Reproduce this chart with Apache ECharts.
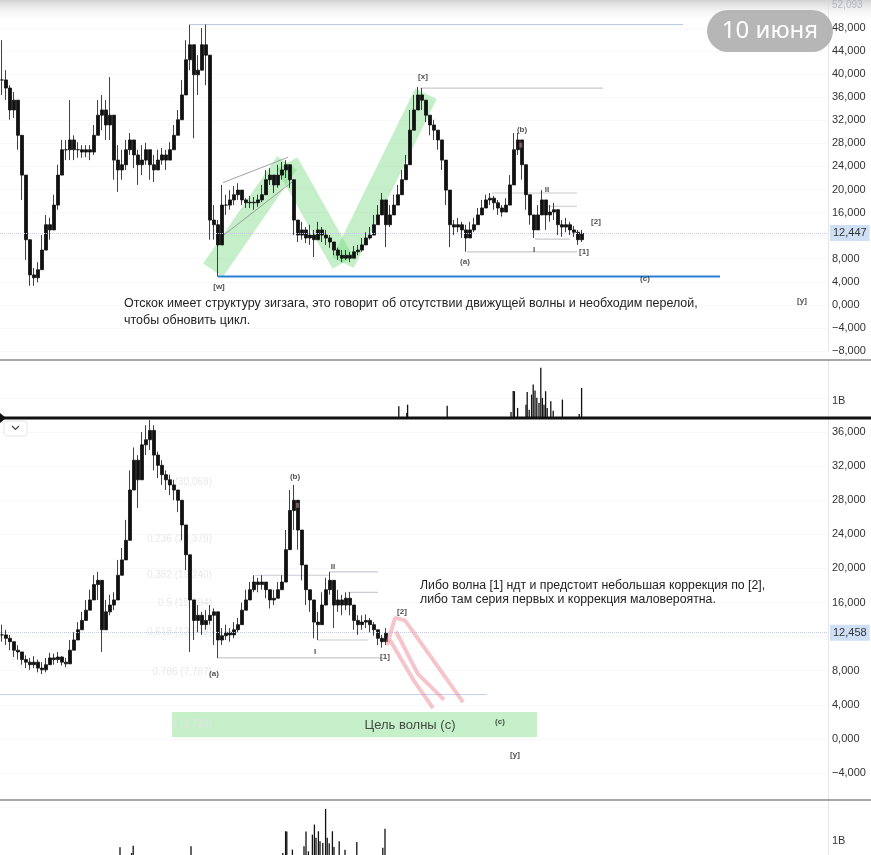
<!DOCTYPE html>
<html><head><meta charset="utf-8">
<script src="https://cdn.jsdelivr.net/npm/echarts@6/dist/echarts.min.js"></script>
<style>html,body{margin:0;padding:0;background:#fff}#c{width:871px;height:855px}</style>
</head><body><div id="c"></div>
<script>
// ---------- DATA (prices in thousands) ----------
const topClose = [39.0,37.6,33.8,35.5,29.4,22.5,11.3,5.2,4.7,6.1,
9.5,13.9,13.0,17.3,22.5,26.9,26.9,28.6,26.9,26.9,
26.5,26.9,26.5,29.4,32.9,33.8,31.2,32.9,25.1,23.4,
24.3,26.9,28.6,26.0,24.3,25.1,26.9,24.3,23.4,25.1,
26.0,25.1,26.9,29.4,32.1,36.4,42.5,45.1,39.9,40.7,
45.1,43.3,14.7,13.9,10.4,17.3,17.3,18.2,19.1,19.9,
18.2,17.7,17.8,17.7,18.2,19.1,21.7,22.5,20.8,22.5,
23.4,24.3,21.7,14.7,12.1,13.0,11.6,12.1,11.3,13.0,
12.1,11.6,10.9,9.5,8.6,8.1,8.6,8.1,9.2,9.5,
10.4,11.6,12.1,13.9,15.6,18.2,13.9,15.6,17.3,19.1,
21.7,24.3,30.3,33.8,36.4,35.5,32.9,31.2,30.3,28.6,
25.1,19.9,13.9,13.5,13.9,13.0,11.6,13.0,13.9,15.6,
16.8,18.2,18.5,17.7,16.8,16.1,17.3,20.8,26.9,28.6,
24.3,19.1,15.6,13.0,15.6,18.2,15.6,16.1,16.5,13.9,
13.5,13.9,13.0,12.6,11.3,12.4];
const topHigh = [45.9,40.7,38.1,36.9,33.8,28.6,21.7,9.5,6.4,7.4,
12.1,15.6,15.1,19.1,24.3,28.6,28.6,35.5,29.4,28.2,
27.7,27.7,27.7,31.2,35.5,36.4,35.5,39.5,30.3,27.7,
26.9,28.6,29.8,28.6,26.9,27.7,28.1,26.9,26.0,26.9,
27.2,26.9,28.2,31.2,33.8,39.0,45.9,48.6,43.3,43.3,
48.0,48.6,37.3,17.3,14.7,20.8,19.1,19.9,20.6,21.1,
19.6,18.5,18.9,18.7,19.1,20.8,23.4,23.7,22.5,24.3,
24.8,25.1,23.7,20.8,14.4,14.4,13.5,13.9,13.0,14.4,
13.5,13.0,12.1,10.7,9.9,9.5,9.5,9.2,10.2,10.4,
11.6,12.6,13.5,15.6,17.3,19.4,16.5,17.3,19.1,20.8,
23.4,26.0,33.8,36.4,37.8,37.6,35.5,32.9,32.1,30.3,
26.9,24.3,18.2,14.7,15.1,14.4,13.9,14.4,15.1,16.8,
18.2,19.1,19.4,18.9,18.2,17.3,18.5,22.5,29.8,29.8,
27.7,22.5,17.3,15.6,17.3,19.9,18.2,17.3,17.7,15.6,
14.7,15.1,14.4,13.7,13.0,13.0];
const topLow = [36.4,35.5,32.1,32.4,26.9,18.2,7.8,3.3,3.3,3.9,
6.1,9.5,11.3,13.0,16.5,22.5,25.1,25.1,25.1,25.5,
25.5,25.6,25.1,26.0,29.4,30.3,28.6,28.6,21.7,19.6,
21.7,23.4,26.0,23.7,20.8,22.5,24.3,21.7,21.3,23.4,
24.3,23.4,25.5,26.9,29.4,32.9,39.0,40.7,28.9,36.4,
40.7,38.1,11.3,11.3,4.9,12.1,15.6,16.5,17.3,18.2,
17.3,16.8,16.8,16.5,17.0,17.8,19.9,20.8,19.4,20.3,
21.7,22.0,20.3,12.1,10.9,11.3,10.7,10.4,8.3,11.3,
10.9,10.4,9.9,8.6,7.8,7.4,7.8,7.4,8.1,8.6,
9.2,10.4,11.3,12.1,13.9,15.6,10.0,13.5,15.6,17.3,
19.9,22.5,26.9,31.2,34.7,33.8,31.7,29.4,28.6,26.9,
23.4,17.3,10.0,12.1,12.6,11.6,9.2,11.6,12.6,13.9,
15.6,16.8,17.3,16.5,15.6,15.3,16.1,19.1,23.4,26.0,
21.7,16.5,13.9,11.6,13.5,15.6,13.0,14.4,14.7,12.1,
11.8,12.6,12.1,11.8,10.4,10.9];
const topLast = 12.447;

const botClose = [12.2,11.8,11.4,10.4,10.2,9.3,9.0,8.7,9.0,8.3,
8.1,8.7,9.5,9.3,9.6,9.0,8.8,10.4,11.6,12.8,
13.9,15.1,16.3,18.1,18.6,12.8,14.9,15.7,16.3,19.2,
21.0,23.3,29.2,32.7,30.4,34.5,35.1,36.2,33.3,32.1,
31.0,30.4,29.8,29.2,28.0,25.1,21.6,16.3,13.9,14.5,
13.4,13.9,14.5,14.9,11.6,12.1,12.5,12.2,12.8,13.4,
15.1,16.3,17.5,18.4,18.1,18.4,17.5,16.3,16.5,17.5,
18.4,22.2,26.8,28.0,24.5,20.4,17.5,16.3,13.7,13.4,
15.7,17.5,18.6,15.7,16.3,15.7,16.5,15.7,13.9,13.4,
13.7,13.9,13.4,12.8,11.8,11.4,12.4];
const botHigh = [13.4,12.8,12.2,11.4,11.0,10.2,9.8,9.5,9.7,9.3,
9.0,9.5,10.1,10.0,10.2,9.7,9.5,11.6,12.5,13.7,
14.9,16.3,17.5,19.2,19.6,16.3,16.3,16.9,17.2,21.0,
22.4,25.7,31.5,34.2,33.3,36.0,36.8,37.4,36.8,33.7,
32.7,31.5,31.0,30.4,29.2,27.4,23.9,21.0,15.7,15.7,
14.9,15.1,15.7,15.3,12.8,13.0,13.4,13.0,13.7,14.2,
16.0,17.5,18.4,19.2,18.9,19.2,18.4,17.2,17.5,18.4,
19.2,24.5,29.2,29.8,27.4,23.3,19.8,17.5,15.7,14.9,
17.2,18.9,19.6,17.5,17.5,16.9,17.2,17.2,15.3,14.5,
14.5,14.6,14.2,13.7,12.8,12.2,13.0];
const botLow = [11.4,11.0,10.4,9.6,9.3,8.7,8.3,8.1,8.3,7.8,
7.6,7.8,8.7,8.7,8.9,8.6,8.4,9.3,10.4,11.6,
12.8,13.9,15.1,16.5,16.3,10.2,13.4,14.5,15.1,17.5,
19.8,21.0,25.7,29.2,27.1,31.5,33.3,33.9,31.5,30.6,
29.8,29.2,28.6,28.0,26.6,23.3,19.8,10.2,11.6,12.5,
12.2,12.8,13.4,11.0,9.5,11.0,11.6,11.4,11.8,12.5,
13.9,15.1,16.5,17.2,17.2,17.5,16.5,15.3,15.7,16.5,
17.5,19.2,23.3,24.5,22.2,18.6,15.7,14.9,11.8,11.6,
14.2,15.7,16.9,13.0,14.9,14.5,15.1,14.5,12.8,12.2,
12.8,13.0,12.5,12.1,11.0,10.7,11.0];
const botLast = 12.458;

// volume (billions), positions on the candle index scale
const topVolIdx = [99.2,101.2,101.4,111.3,127.25,127.8,128.1,128.9,131,131.3,131.8,132.4,132.8,133.25,133.7,134.25,134.7,135.1,135.5,135.9,136.3,137.2,137.8,140.1,144.3,144.9];
const topVolB = [0.69,0.29,0.78,0.72,0.35,1.59,1.57,0.59,0.78,1.53,0.49,1.37,1.96,1.61,1.18,0.88,2.94,1.18,0.78,1.57,0.59,0.98,0.43,1.08,0.24,1.76];
const botVolIdx = [29.5,32.4,32.8,47.25,70.2,70.9,71.2,72.6,75.5,76,76.6,77.6,78.1,78.5,79.1,79.5,80.2,80.9,81.3,81.8,82.6,83,84.3,85.75,88.7,95.2,95.75];
const botVolB = [0.63,0.29,0.72,0.69,0.29,1.57,1.55,0.49,0.69,1.55,0.39,1.37,1.96,1.18,1.57,0.98,0.88,2.88,1.18,0.86,1.57,0.65,0.98,0.49,0.94,0.6,1.72];

// annotations: [startIdx, endIdx, level]
const topHLines = [[104.5,150.25,37.6],[122.5,143.75,19.4],[136.5,143.75,17.1],[133.25,142,11.4],[116.25,143.75,9.2]];
const topHighLine = [47,170.25,48.6];
const topSupport = [54,179.5,4.9];
const topChannel = [[[55.25,21.2],[71.5,25.6]],[[54.5,11.6],[72.5,21.3]]];
const topZigzag = [[52.75,6.0],[71.25,24.6],[85.25,7.3],[106,36.6]];
const topWaveLabels = [['[x]',105.25,39.5],['(b)',130,30.3],['II',136.25,19.9],['[2]',148.5,14.4],['(a)',115.75,7.4],['I',133,9.5],['[1]',145.5,9.2],['[w]',54.25,3.1],['(c)',160.75,4.6],['[y]',200,0.7]];

const botHLines = [[53.75,95.25,9.5],[78.75,91.5,11.6],[82,94,19.6],[86.5,94,17.2],[63.25,82,19.2]];
const botFaintLine = [-0.5,121.25,5.2];
const botTarget = [42.5,133.75,3.15,0.2];
const botTargetText = ['Цель волны (с)',102,1.6];
const botWaveLabels = [['(b)',73.25,30.7],['II',82.75,20.2],['[2]',100,14.9],['(a)',53,7.6],['I',78.25,10.2],['[1]',95.75,9.6],['(c)',124.5,2.0],['[y]',128.25,-1.9]];
const botPink = [[[96.25,11.0],[98.25,14.2],[100.75,13.9],[115.25,4.3]],[[97,11.6],[103,6.8],[107.75,3.6]],[[98.5,12.6],[104,7.6],[110.5,4.6]]];
const fibRatios = ['0','0.236','0.382','0.5','0.618','0.786'];
const fibPrices = [30.069,23.379,19.240,15.894,12.549,7.787];
const fibLabelIdx = 52.5;

const topText = 'Отскок имеет структуру зигзага, это говорит об отсутствии движущей волны и необходим перелой,\nчтобы обновить цикл.';
const botText = 'Либо волна [1] ндт и предстоит небольшая коррекция по [2],\nлибо там серия первых и коррекция маловероятна.';

// ---------- BUILD ----------
const N = 207;
const cats = Array.from({length:N},(_,i)=>i);
const ohlc = (c,h,l)=>c.map((v,i)=>[i?c[i-1]:v, v, l[i], h[i]]);
const fmtK = v => v===12 ? '' : (v<0?'−':'') + Math.abs(v) + ',000';
const fmtLast = v => v.toFixed(3).replace('.',',');
const FONT = 'Liberation Sans, Arial, sans-serif';

function line(xa, ya, pts, color, width, z, extra){
  return Object.assign({type:'line', xAxisIndex:xa, yAxisIndex:ya, data:pts, symbol:'none', silent:true,
    lineStyle:{color, width}, z: z||3, animation:false}, extra||{});
}
function hline(xa, ya, l, color, width, z){ return line(xa, ya, [[l[0],l[2]],[l[1],l[2]]], color, width, z); }
function labels(xa, ya, arr){
  return {type:'scatter', xAxisIndex:xa, yAxisIndex:ya, symbolSize:0, silent:true, z:6, animation:false,
    data: arr.map(a=>({name:a[0], value:[a[1],a[2]]})),
    label:{show:true, position:'inside', formatter:p=>p.name, color:'#222', fontSize:8, fontWeight:'bold', fontFamily:FONT}};
}
const axisLabelBase = {color:'#333', fontSize:11, fontFamily:FONT, margin:4};
const candleStyle = {color:'#111',color0:'#111',borderColor:'#111',borderColor0:'#111',borderWidth:0.8};

const series = [];
// top zigzag band (under candles)
for (let k=0;k<topZigzag.length-1;k++){
  series.push(line(1,0,[topZigzag[k],topZigzag[k+1]],'rgba(110,214,120,0.4)',24,1));
}
series.push({type:'candlestick', xAxisIndex:0, yAxisIndex:0, data:ohlc(topClose,topHigh,topLow), barWidth:3, z:4, animation:false,
  itemStyle:candleStyle,
  markLine:{symbol:'none', silent:true, animation:false, data:[{yAxis:topLast}],
    lineStyle:{type:'dotted', color:'#c3cadb', width:1},
    label:{position:'end', formatter:fmtLast(topLast), backgroundColor:'#cfe0f6', color:'#333', padding:[3,3,2,3], fontSize:11, fontFamily:FONT, distance:2}}});
series.push(hline(1,0,topHighLine,'#b3c6de',1));
topHLines.forEach(l=>series.push(hline(1,0,l,'#c9c9c9',1.2)));
series.push(hline(1,0,topSupport,'#2b7fd6',2));
topChannel.forEach(c=>series.push(line(1,0,c,'#8a8a8a',0.8)));
series.push({type:'scatter', xAxisIndex:1, yAxisIndex:0, symbol:'rect', symbolSize:[3,5], silent:true, z:5, data:[[129.7,27.7]], itemStyle:{color:'rgba(240,160,170,0.6)'}});
series.push(labels(1,0,topWaveLabels));

// bottom panel
series.push({type:'candlestick', xAxisIndex:2, yAxisIndex:1, data:ohlc(botClose,botHigh,botLow), barWidth:3, z:4, animation:false,
  itemStyle:candleStyle,
  markLine:{symbol:'none', silent:true, animation:false, data:[{yAxis:botLast}],
    lineStyle:{type:'dotted', color:'#c3cadb', width:1},
    label:{position:'end', formatter:fmtLast(botLast), backgroundColor:'#cfe0f6', color:'#333', padding:[3,3,2,3], fontSize:11, fontFamily:FONT, distance:2}}});
series.push(hline(3,1,botFaintLine,'#c6d1ea',1));
botHLines.forEach(l=>series.push(hline(3,1,l,'#c9cbd3',1.2)));
series.push({type:'line', xAxisIndex:3, yAxisIndex:1, data:[], silent:true,
  markArea:{silent:true, itemStyle:{color:'rgba(140,226,150,0.5)'},
    data:[[{coord:[botTarget[0],botTarget[2]]},{coord:[botTarget[1],botTarget[3]]}]]}});
botPink.forEach(p=>series.push(line(3,1,p,'rgba(238,140,152,0.5)',4,5)));
series.push({type:'scatter', xAxisIndex:3, yAxisIndex:1, symbol:'rect', symbolSize:[3,5], silent:true, z:5, data:[[73.9,27.4]], itemStyle:{color:'rgba(240,160,170,0.6)'}});
series.push(labels(3,1,botWaveLabels));
series.push({type:'scatter', xAxisIndex:3, yAxisIndex:1, symbolSize:0, silent:true, z:6,
  data:[{name:botTargetText[0], value:[botTargetText[1],botTargetText[2]]}],
  label:{show:true, position:'inside', formatter:p=>p.name, color:'#222', fontSize:13, fontFamily:FONT}});
series.push({type:'scatter', xAxisIndex:3, yAxisIndex:1, symbolSize:0, silent:true, z:2,
  data: fibPrices.map((v,i)=>({name:fibRatios[i]+' ('+v.toFixed(3).replace('.',',')+')', value:[fibLabelIdx, v]})).concat([{name:'1 (1,720)', value:[fibLabelIdx,1.72]}]),
  label:{show:true, position:'left', distance:0, formatter:p=>p.name, color:'#e4e4e4', fontSize:10, fontFamily:FONT}});

// volumes
series.push({type:'bar', xAxisIndex:4, yAxisIndex:2, data:topVolIdx.map((x,i)=>[x,topVolB[i]]), barWidth:1.3, itemStyle:{color:'#111'}, silent:true, animation:false});
series.push({type:'bar', xAxisIndex:5, yAxisIndex:3, data:botVolIdx.map((x,i)=>[x,botVolB[i]]), barWidth:1.3, itemStyle:{color:'#111'}, silent:true, animation:false});

const hidden = {show:false};
const grids = [
  {left:0, top:5, width:828, height:346},
  {left:0, top:398, width:828, height:409},
  {left:0, top:360, width:828, height:58},
  {left:0, top:800, width:828, height:58}
].map(g=>Object.assign(g,{outerBoundsMode:'none', containLabel:false}));

const xAxis = [
  {type:'category', gridIndex:0, data:cats, axisLine:hidden,axisTick:hidden,axisLabel:hidden,splitLine:hidden},
  {type:'value', gridIndex:0, min:-0.5, max:N-0.5, show:false},
  {type:'category', gridIndex:1, data:cats, axisLine:hidden,axisTick:hidden,axisLabel:hidden,splitLine:hidden},
  {type:'value', gridIndex:1, min:-0.5, max:N-0.5, show:false},
  {type:'value', gridIndex:2, min:-0.5, max:N-0.5, show:false},
  {type:'value', gridIndex:3, min:-0.5, max:N-0.5, show:false}
];
const yLine = {show:true, onZero:false, lineStyle:{color:'#e6e6e6'}};
const yAxis = [
  {type:'value', gridIndex:0, position:'right', min:-8, max:52, interval:4, axisTick:hidden,
   axisLine:yLine, splitLine:{show:true, lineStyle:{color:'#f8f8f8'}},
   axisLabel:Object.assign({showMaxLabel:false, formatter:fmtK}, axisLabelBase)},
  {type:'value', gridIndex:1, position:'right', min:-8, max:40, interval:4, axisTick:hidden,
   axisLine:yLine, splitLine:{show:true, lineStyle:{color:'#f8f8f8'}},
   axisLabel:Object.assign({showMaxLabel:false, showMinLabel:false, formatter:fmtK}, axisLabelBase)},
  {type:'value', gridIndex:2, position:'right', min:0, max:3.4, interval:1, axisTick:hidden,
   axisLine:yLine, splitLine:hidden,
   axisLabel:Object.assign({formatter:v=>v===1?'1B':''}, axisLabelBase)},
  {type:'value', gridIndex:3, position:'right', min:0, max:3.4, interval:1, axisTick:hidden,
   axisLine:yLine, splitLine:hidden,
   axisLabel:Object.assign({formatter:v=>v===1?'1B':''}, axisLabelBase)}
];

const graphic = [
  {type:'rect', left:0, top:0, z:100, silent:true, shape:{width:871, height:22},
   style:{fill:{type:'linear',x:0,y:0,x2:0,y2:1,colorStops:[{offset:0,color:'rgba(205,205,205,0.9)'},{offset:1,color:'rgba(255,255,255,0)'}]}}},
  {type:'text', left:832, top:0, z:101, silent:true, style:{text:'52,093', fill:'#9aa3b5', fontSize:10, fontFamily:FONT, opacity:0.7}},
  {type:'rect', left:707, top:10, z:102, silent:true, shape:{width:126, height:42, r:21}, style:{fill:'rgba(172,172,172,0.88)'}},
  {type:'text', x:770, y:31, z:103, silent:true, style:{text:'10 июня', fill:'#fff', fontSize:24, fontFamily:'Noto Sans, Liberation Sans, sans-serif', align:'center', verticalAlign:'middle'}},
  {type:'line', z:100, silent:true, shape:{x1:0,y1:360,x2:871,y2:360}, style:{stroke:'#8a8a8a', lineWidth:1.5}},
  {type:'line', z:100, silent:true, shape:{x1:0,y1:800,x2:871,y2:800}, style:{stroke:'#8a8a8a', lineWidth:1.5}},
  {type:'line', z:100, silent:true, shape:{x1:0,y1:418,x2:871,y2:418}, style:{stroke:'#111', lineWidth:3}},
  {type:'polygon', z:101, silent:true, shape:{points:[[0,413],[6,418],[0,423]]}, style:{fill:'#111'}},
  {type:'rect', z:100, silent:true, shape:{x:4,y:421,width:23,height:15,r:3}, style:{fill:'#fff', stroke:'#e6e6e6'}},
  {type:'polyline', z:101, silent:true, shape:{points:[[12,426],[15.5,429.5],[19,426]]}, style:{stroke:'#444', lineWidth:1.2, fill:null}},
  {type:'text', x:124, y:295, scaleX:0.96, z:50, silent:true, style:{text:topText, fill:'#222', fontSize:13, fontFamily:FONT, lineHeight:17}},
  {type:'text', x:420, y:579, z:50, silent:true, style:{text:botText, fill:'#222', fontSize:12.3, fontFamily:FONT, lineHeight:14}}
];

const chart = echarts.init(document.getElementById('c'), null, {renderer:'canvas'});
chart.setOption({animation:false, backgroundColor:'#fff', grid:grids, xAxis, yAxis, series, graphic});
</script>
</body></html>
